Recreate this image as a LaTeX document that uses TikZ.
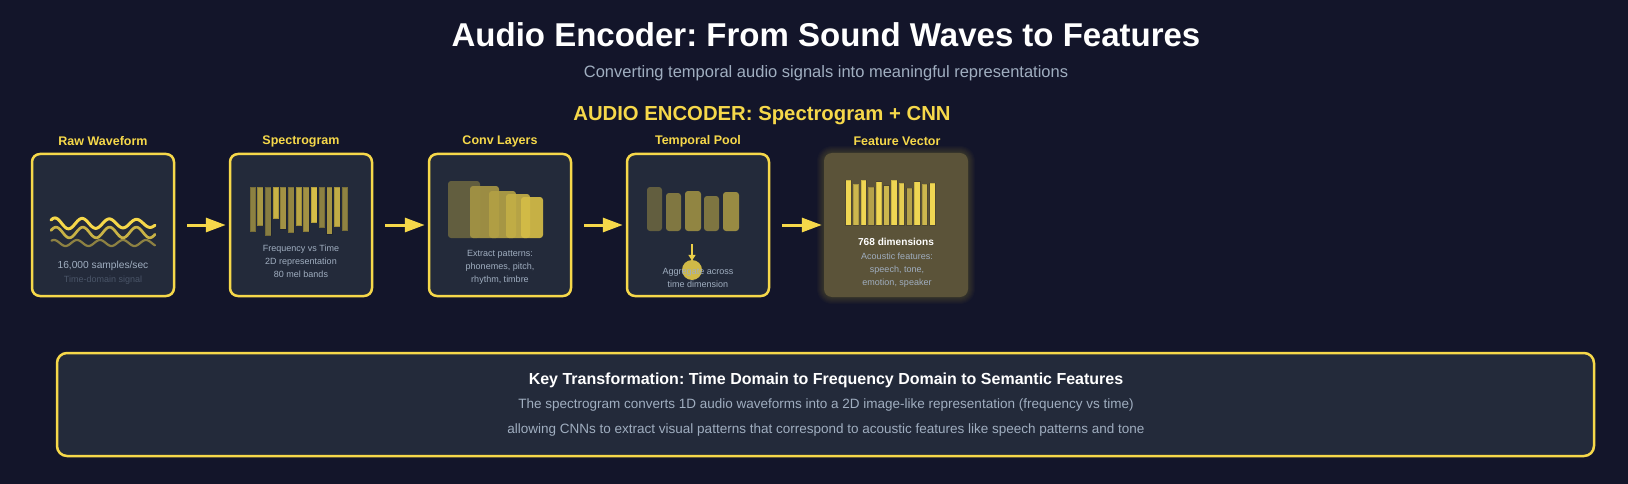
\documentclass[tikz,border=0pt]{standalone}
\usepackage{fontspec}
\setmainfont{Liberation Sans}
\usetikzlibrary{arrows.meta}
\definecolor{bg}{HTML}{13152A}
\definecolor{boxbg}{HTML}{232A3A}
\definecolor{Y}{HTML}{F6D84A}
\definecolor{txt}{HTML}{A0AEC0}
\definecolor{dimtxt}{HTML}{4A5568}
\definecolor{feat}{HTML}{5B5339}
\frenchspacing
\begin{document}
\begin{tikzpicture}[x=1pt,y=-1pt,
  stage/.style={draw=Y, line width=2.5pt, fill=boxbg, rounded corners=8pt, minimum width=142pt, minimum height=142pt, inner sep=0pt},
  stitle/.style={text=Y, font=\bfseries\fontsize{12.5}{15}\selectfont, inner sep=0pt},
  body/.style={text=txt, font=\fontsize{9}{13}\selectfont, align=center, inner sep=0pt},
  flow/.style={draw=Y, line width=3pt, -{Triangle[length=20pt,width=14pt]}},
  bar/.style={draw=black, draw opacity=0.15, line width=0.5pt}
]
% background
\fill[bg] (0,0) rectangle (1628,484);
\useasboundingbox (0,0) rectangle (1628,484);

% titles
\node[text=white, font=\bfseries\fontsize{33}{38}\selectfont, inner sep=0pt] (title) at (826,35) {Audio Encoder: From Sound Waves to Features};
\node[text=txt, font=\fontsize{16.5}{20}\selectfont, inner sep=0pt] (subtitle) at (826,73) {Converting temporal audio signals into meaningful representations};
\node[text=Y, font=\bfseries\fontsize{20.3}{24}\selectfont, inner sep=0pt] (enc) at (762,116) {AUDIO ENCODER: Spectrogram + CNN};

% stage boxes
\node[stage] (raw) at (103,225) {};
\node[stage] (spec) at (301,225) {};
\node[stage] (conv) at (500,225) {};
\node[stage] (pool) at (698,225) {};
% glow for feature box
\foreach \r in {1,...,7} {
  \fill[Y, opacity=0.025, rounded corners={8pt+\r pt}] ({824-\r},{153-\r}) rectangle ({968+\r},{297+\r});
}
\node[fill=feat, rounded corners=8pt, minimum width=144pt, minimum height=144pt, inner sep=0pt] (feat) at (896,225) {};

% stage titles
\node[stitle] (trawt) at (103,141) {Raw Waveform};
\node[stitle] (tspec) at (301,141) {Spectrogram};
\node[stitle] (tconv) at (500,141) {Conv Layers};
\node[stitle] (tpool) at (698,141) {Temporal Pool};
\node[stitle] (tfeat) at (897,141) {Feature Vector};

% connectors
\draw[flow] ([xshift=12pt]raw.east) -- ([xshift=-3pt]spec.west);
\draw[flow] ([xshift=12pt]spec.east) -- ([xshift=-3pt]conv.west);
\draw[flow] ([xshift=12pt]conv.east) -- ([xshift=-3pt]pool.west);
\draw[flow] ([xshift=12pt]pool.east) -- ([xshift=-2pt]feat.west);

% raw waveform
\draw[Y!50!boxbg, line width=2.2pt, line cap=round] plot[domain=51.5:155, samples=160, smooth, variable=\x] (\x, {243 - 3*cos((\x-54)/23*360)});
\draw[Y!78!boxbg, line width=2.7pt, line cap=round] plot[domain=51:155, samples=160, smooth, variable=\x] (\x, {232.5 - 5.3*cos((\x-56)/26.8*360)});
\draw[Y, line width=3pt, line cap=round] plot[domain=51:155, samples=160, smooth, variable=\x] (\x, {223.5 - (5.6-1.8*(\x-51)/104)*cos((\x-55)/27.2*360)});
\node[text=txt, font=\fontsize{10.2}{12}\selectfont, inner sep=0pt] (rawa) at (103,266) {16,000 samples/sec};
\node[text=dimtxt, font=\fontsize{9}{12}\selectfont, inner sep=0pt] (rawb) at (103,280) {Time-domain signal};

% spectrogram bars
\foreach \i/\b/\m in {0/231.7/50, 1/225.7/63, 2/235.7/47, 3/218.7/78, 4/229.3/60, 5/232.7/53, 6/225.7/71, 7/231.7/60, 8/222.7/85, 9/227.7/50, 10/234.3/61, 11/226.7/75, 12/230.7/51} {
  \filldraw[bar, fill=Y!\m!boxbg] ({249.8+7.67*\i},187) rectangle ({255.5+7.67*\i},\b);
}
\node[body] (spect) at (301,261) {Frequency vs Time\\2D representation\\80 mel bands};

% conv layers
\fill[Y!30!boxbg, rounded corners=3pt] (448,181) rectangle (480,238);
\fill[Y!60!boxbg, opacity=0.95, rounded corners=3pt] (470,186) rectangle (499,238);
\fill[Y!68!boxbg, opacity=0.92, rounded corners=3pt] (489,191) rectangle (516,238);
\fill[Y!76!boxbg, opacity=0.92, rounded corners=3pt] (506,194) rectangle (530,238);
\fill[Y!84!boxbg, opacity=0.92, rounded corners=3pt] (521,197) rectangle (543,238);
\node[body] (convt) at (500,267) {Extract patterns:\\phonemes, pitch,\\rhythm, timbre};

% temporal pool
\fill[Y!30!boxbg, rounded corners=3pt] (647,187) rectangle (662,231);
\fill[Y!44!boxbg, rounded corners=3pt] (666,193) rectangle (681,231);
\fill[Y!52!boxbg, rounded corners=3pt] (685,191) rectangle (701,231);
\fill[Y!43!boxbg, rounded corners=3pt] (704,196) rectangle (719,231);
\fill[Y!56!boxbg, rounded corners=3pt] (723,192) rectangle (739,231);
\coordinate (pdtop) at (692,244);
\node[circle, fill=Y!82!boxbg, minimum size=20pt, inner sep=0pt] (pcirc) at (692,270) {};
\draw[Y!95!boxbg, line width=1.6pt, -{Triangle[length=6pt,width=7pt]}] (pdtop) -- ([yshift=-1pt]pcirc.north);
\node[body] (poolt) at (698,277.5) {Aggregate across\\time dimension};

% feature vector bars
\foreach \i/\t/\c in {0/180.3/EFD653, 1/184.3/CDB74E, 2/180.3/EFD653, 3/187/B5A24A, 4/181.7/EFD653, 5/185.7/CDB74E, 6/180.3/EFD653, 7/183/E6CE52, 8/188.3/B5A24A, 9/181.7/EFD653, 10/184.3/CDB74E, 11/183/EFD653} {
  \definecolor{bc}{HTML}{\c}
  \filldraw[bar, fill=bc] ({845.5+7.64*\i},\t) rectangle ({851+7.64*\i},225.3);
}
\node[text=white, font=\bfseries\fontsize{10.1}{12}\selectfont, inner sep=0pt] (featd) at (896,242) {768 dimensions};
\node[body] (featt) at (897,270) {Acoustic features:\\speech, tone,\\emotion, speaker};

% bottom panel
\node[draw=Y, line width=2.5pt, fill=boxbg, rounded corners=10pt, minimum width=1537pt, minimum height=103pt, inner sep=0pt] (panel) at (825.5,404.5) {};
\node[text=white, font=\bfseries\fontsize{16}{19}\selectfont, inner sep=0pt] (ptitle) at (826,380) {Key Transformation: Time Domain to Frequency Domain to Semantic Features};
\node[text=txt, font=\fontsize{13.5}{16}\selectfont, inner sep=0pt] (pl1) at (826,405) {The spectrogram converts 1D audio waveforms into a 2D image-like representation (frequency vs time)};
\node[text=txt, font=\fontsize{13.5}{16}\selectfont, inner sep=0pt] (pl2) at (826,430) {allowing CNNs to extract visual patterns that correspond to acoustic features like speech patterns and tone};
\end{tikzpicture}
\end{document}
